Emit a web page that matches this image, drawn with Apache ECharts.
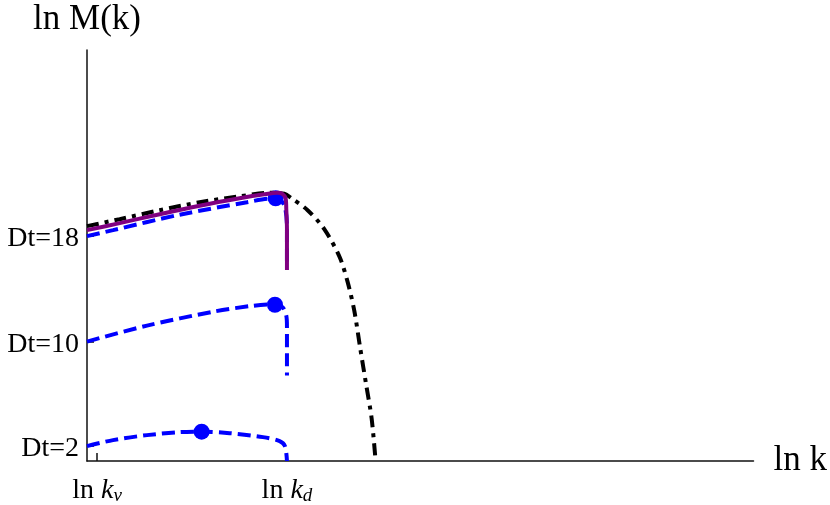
<!DOCTYPE html>
<html>
<head>
<meta charset="utf-8">
<script src="https://cdn.jsdelivr.net/npm/echarts@6/dist/echarts.min.js"></script>
<style>
  html, body { margin: 0; padding: 0; background: #fff; }
  #main { width: 830px; height: 505px; }
</style>
</head>
<body>
<div id="main"></div>
<script>
// curve points: [ln k, ln M]
const envelope = [
  [0, 23.6], [0.49, 24.3], [1.09, 25.2], [1.69, 26.0], [2.29, 26.6], [2.74, 26.95],
  [2.96, 26.85], [3.07, 26.4], [3.31, 25.2], [3.56, 23.3], [3.79, 20.5], [3.91, 18.0],
  [4.01, 15.1], [4.10, 11.3], [4.19, 7.6], [4.27, 4.3], [4.33, 0]
];
const purpleLine = [
  [0, 23.2], [0.49, 23.9], [1.09, 24.8], [1.69, 25.65], [2.29, 26.4], [2.66, 26.8],
  [2.86, 26.95], [2.93, 26.85], [2.98, 26.4], [2.99, 25.3], [3.0, 23.3], [3.0, 19.2]
];
const dt18 = [
  [0, 22.6], [0.39, 23.2], [1.39, 24.75], [2.4, 26.0], [2.74, 26.35], [2.9, 26.2],
  [2.97, 25.5], [3.0, 23.5], [3.0, 19.5]
];
const dt10 = [
  [0, 12.0], [0.9, 13.6], [1.89, 15.0], [2.49, 15.6], [2.82, 15.75], [2.94, 15.4],
  [2.99, 14.6], [3.0, 13.5], [3.0, 8.6]
];
const dt2 = [
  [0, 1.5], [0.39, 2.1], [0.9, 2.6], [1.39, 2.9], [1.72, 2.95], [2.14, 2.8],
  [2.64, 2.4], [2.89, 2.0], [2.97, 1.5], [3.0, 0]
];
const peaks = [[2.83, 26.4], [2.82, 15.7], [1.72, 2.95]];

const xTickValues = [0.15, 3.0];
const xTickLabels = ['{a|ln }{i|k}{s|ν}', '{a|ln }{i|k}{s|d}'];
const yTickValues = [1.5, 12.0, 22.6];
const yLabelValues = [1.2, 11.7, 22.3];
const yTickLabels = ['Dt=2', 'Dt=10', 'Dt=18'];

const serif = 'Liberation Serif';
const chart = echarts.init(document.getElementById('main'));

const dashed = (data) => ({
  type: 'line', data, smooth: 0.3, showSymbol: false,
  lineStyle: { color: '#0000ff', width: 4, type: [13, 6] }
});

chart.setOption({
  animation: false,
  grid: { left: 87, right: 76, top: 50, bottom: 42 },
  xAxis: {
    type: 'value', min: 0, max: 10,
    name: 'ln k', nameLocation: 'end', nameGap: 20,
    nameTextStyle: { fontFamily: serif, fontSize: 35, color: '#000' },
    axisLine: { lineStyle: { color: '#111', width: 1.5 } },
    axisTick: { inside: true, length: 8, customValues: xTickValues, lineStyle: { color: '#111', width: 1.5 } },
    axisLabel: {
      customValues: xTickValues, margin: 15,
      formatter: (v) => xTickLabels[xTickValues.indexOf(v)] || '',
      rich: {
        a: { fontFamily: serif, fontSize: 28, color: '#000' },
        i: { fontFamily: serif, fontSize: 28, fontStyle: 'italic', color: '#000' },
        s: { fontFamily: serif, fontSize: 19, fontStyle: 'italic', color: '#000', verticalAlign: 'bottom', padding: [10, 0, 0, 0] }
      }
    },
    splitLine: { show: false }
  },
  yAxis: {
    type: 'value', min: 0, max: 41.3,
    name: 'ln M(k)', nameLocation: 'end', nameGap: 30,
    nameTextStyle: { fontFamily: serif, fontSize: 35, color: '#000', align: 'center', verticalAlign: 'middle' },
    axisLine: { show: true, lineStyle: { color: '#111', width: 1.5 } },
    axisTick: { show: true, inside: true, length: 7, customValues: yTickValues, lineStyle: { color: '#111', width: 1.5 } },
    axisLabel: {
      customValues: yLabelValues, margin: 8,
      fontFamily: serif, fontSize: 28, color: '#000',
      formatter: (v) => yTickLabels[yLabelValues.indexOf(v)] || ''
    },
    splitLine: { show: false }
  },
  series: [
    dashed(dt2),
    dashed(dt10),
    dashed(dt18),
    {
      type: 'line', data: envelope, smooth: 0.3, showSymbol: false,
      lineStyle: { color: '#000', width: 4, type: [12, 6, 4, 6] }
    },
    {
      type: 'line', data: purpleLine, smooth: 0.3, showSymbol: false,
      lineStyle: { color: '#800080', width: 4 }
    },
    {
      type: 'scatter', data: peaks, symbolSize: 16,
      itemStyle: { color: '#0000ff', opacity: 1 }
    }
  ]
});
</script>
</body>
</html>
